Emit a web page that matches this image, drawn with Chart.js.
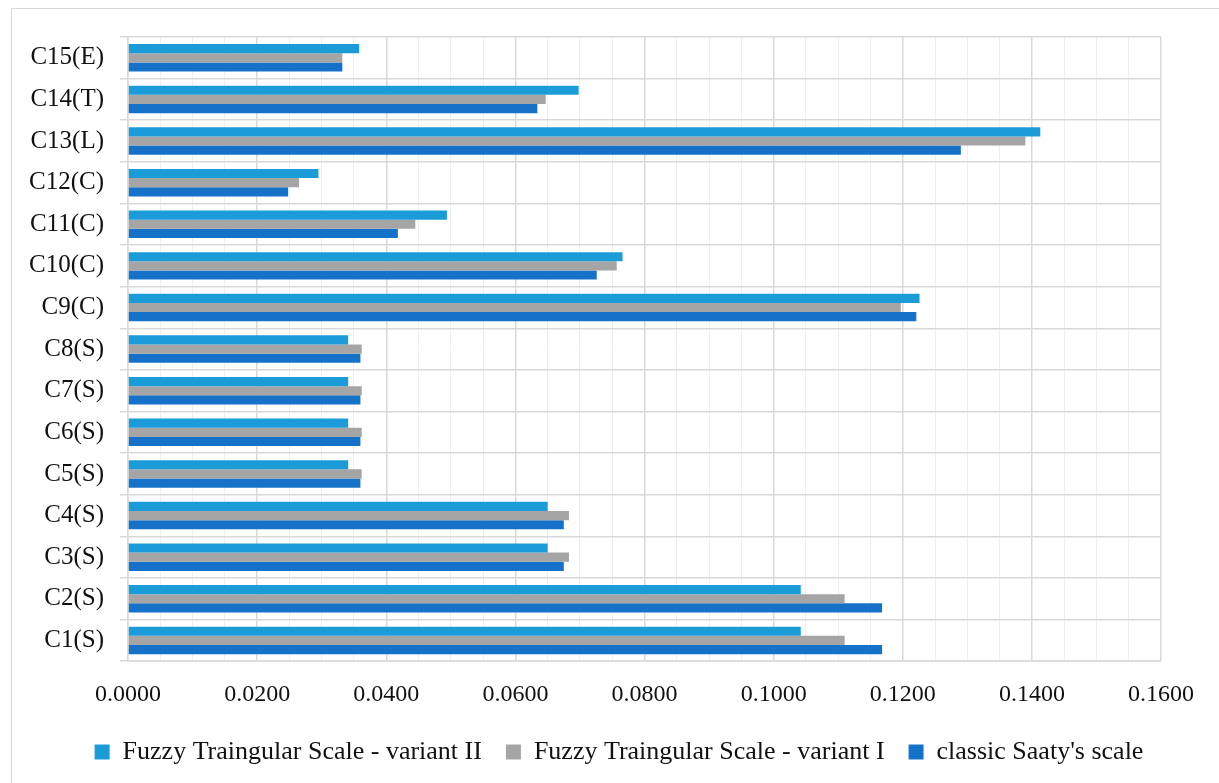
<!DOCTYPE html>
<html>
<head>
<meta charset="utf-8">
<script src="https://cdn.jsdelivr.net/npm/chart.js@4.4.1/dist/chart.umd.min.js"></script>
<style>
  html, body { margin: 0; padding: 0; background: #fff; overflow: hidden; }
  #wrap { position: absolute; left: 11px; top: 8px; width: 1400px; height: 900px; border: 1.5px solid #d9d9d9; box-sizing: border-box; }
  #box { position: absolute; left: 0; top: 0; width: 1219px; height: 783px; }
</style>
</head>
<body>
<div id="wrap"></div>
<div id="box"><canvas id="weightsChart"></canvas></div>
<script>
const categories = ['C1(S)', 'C2(S)', 'C3(S)', 'C4(S)', 'C5(S)', 'C6(S)', 'C7(S)', 'C8(S)',
  'C9(C)', 'C10(C)', 'C11(C)', 'C12(C)', 'C13(L)', 'C14(T)', 'C15(E)'];
const variantII = [0.1042, 0.1042, 0.0650, 0.0650, 0.0341, 0.0341, 0.0341, 0.0341,
  0.1226, 0.0766, 0.0494, 0.0295, 0.1413, 0.0698, 0.0358];
const variantI = [0.1110, 0.1110, 0.0683, 0.0683, 0.0362, 0.0362, 0.0362, 0.0362,
  0.1197, 0.0757, 0.0445, 0.0265, 0.1390, 0.0647, 0.0332];
const classic = [0.1168, 0.1168, 0.0675, 0.0675, 0.0360, 0.0360, 0.0360, 0.0360,
  0.1221, 0.0726, 0.0418, 0.0248, 0.1290, 0.0634, 0.0332];
const xTicks = [0, 0.02, 0.04, 0.06, 0.08, 0.10, 0.12, 0.14, 0.16];

const serif = "'Liberation Serif', 'DejaVu Serif', serif";
const isMajor = v => xTicks.some(t => Math.abs(t - v) < 1e-7);
const defaultLabels = Chart.defaults.plugins.legend.labels.generateLabels;

// legend sits a bit right of centre in the original
const legendShift = {
  id: 'legendShift',
  afterLayout(chart) { chart.legend.left += 64; }
};

const ctx = document.getElementById('weightsChart').getContext('2d');
const weightsChart = new Chart(ctx, {
  type: 'bar',
  data: {
    labels: categories,
    datasets: [{
      label: 'Fuzzy Traingular Scale - variant II',
      data: variantII,
      backgroundColor: '#1B9BD8'
    }, {
      label: 'Fuzzy Traingular Scale - variant I',
      data: variantI,
      backgroundColor: '#A5A5A5'
    }, {
      label: "classic Saaty's scale",
      data: classic,
      backgroundColor: '#1672C9'
    }]
  },
  plugins: [legendShift],
  options: {
    indexAxis: 'y',
    responsive: true,
    maintainAspectRatio: false,
    animation: false,
    layout: { padding: { left: 13, right: 58, top: 37, bottom: 8 } },
    datasets: { bar: { categoryPercentage: 0.66, barPercentage: 1 } },
    plugins: {
      tooltip: { enabled: false },
      legend: {
        position: 'bottom',
        labels: {
          boxWidth: 15,
          boxHeight: 15,
          padding: 11,
          color: '#111',
          font: { family: serif, size: 26 },
          // a little extra room between legend items
          generateLabels: chart => defaultLabels(chart).map((l, i, arr) =>
            i < arr.length - 1 ? Object.assign(l, { text: l.text + '  ' }) : l)
        }
      }
    },
    scales: {
      x: {
        min: 0,
        max: 0.16,
        ticks: {
          stepSize: 0.005,
          autoSkip: false,
          maxRotation: 0,
          padding: 19,
          color: '#111',
          font: { family: serif, size: 24 },
          callback: v => isMajor(v) ? v.toFixed(4) : ''
        },
        grid: {
          drawTicks: false,
          color: c => isMajor(c.tick.value) ? '#d9d9d9' : '#efefef',
          lineWidth: c => isMajor(c.tick.value) ? 1.5 : 1
        },
        border: { color: '#d9d9d9', width: 1.5 }
      },
      y: {
        reverse: true,
        ticks: {
          padding: 16,
          color: '#111',
          font: { family: serif, size: 25 }
        },
        grid: {
          offset: true,
          tickLength: 8,
          color: '#d9d9d9',
          lineWidth: 1.5
        },
        border: { color: '#d9d9d9', width: 1.5 }
      }
    }
  }
});
</script>
</body>
</html>
